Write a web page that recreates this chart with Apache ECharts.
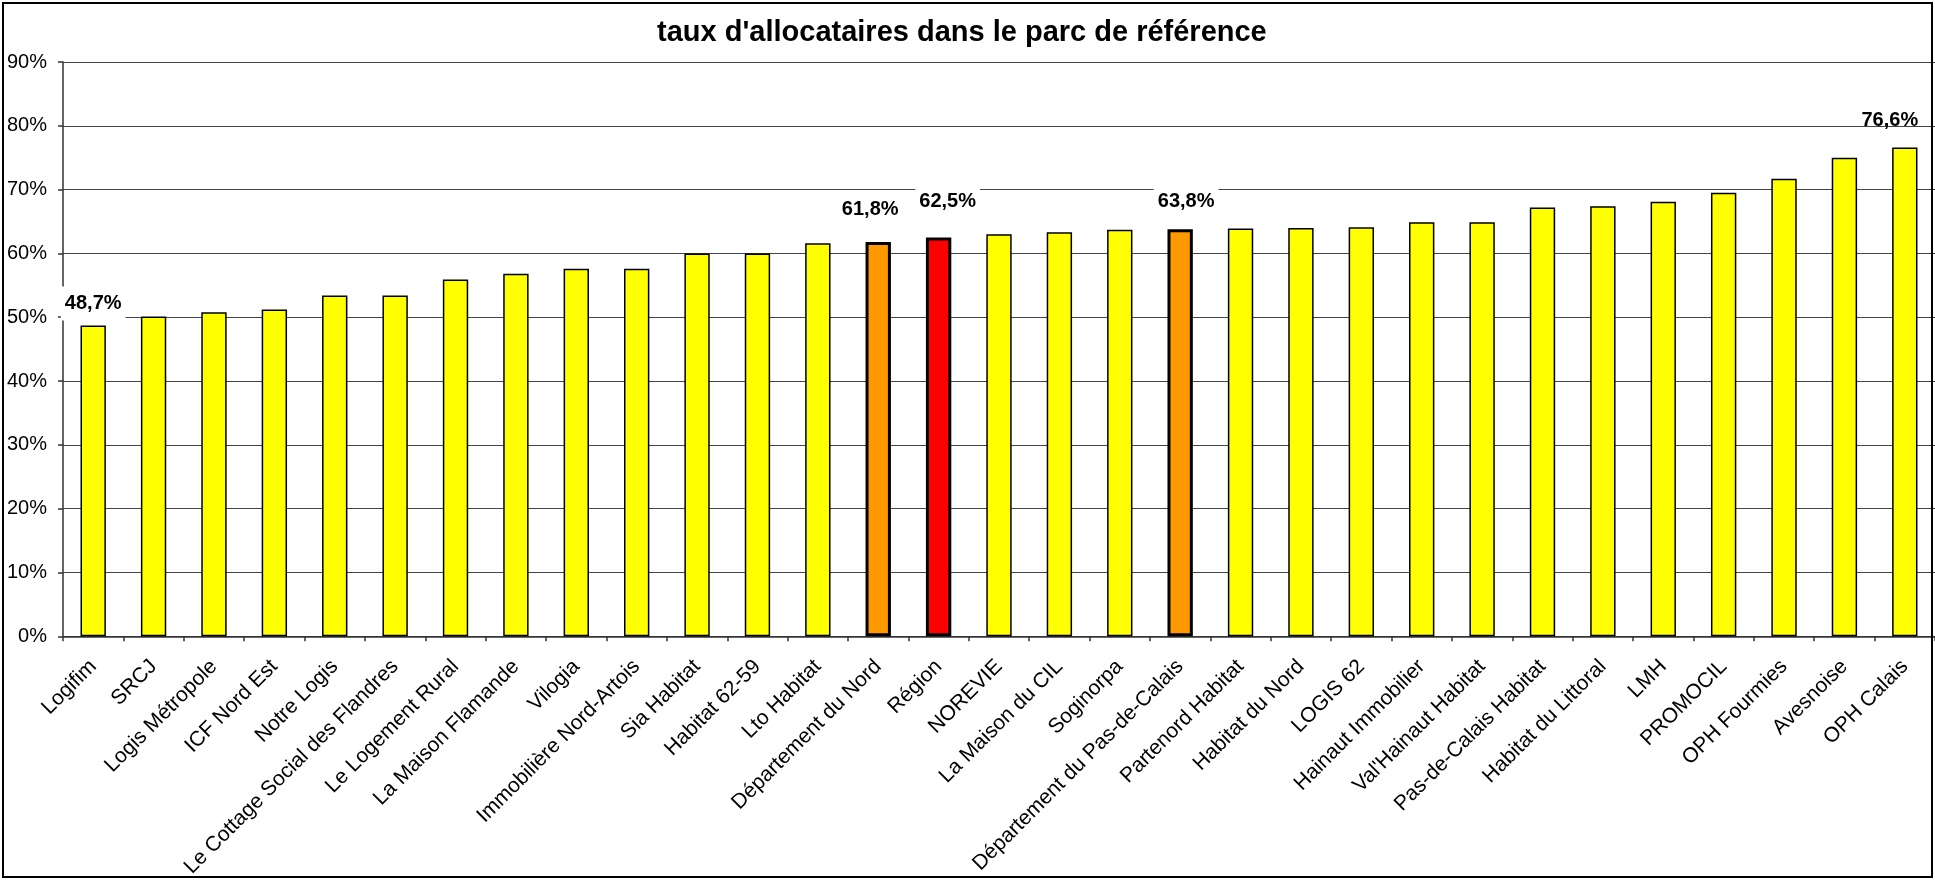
<!DOCTYPE html>
<html>
<head>
<meta charset="utf-8">
<script src="https://cdn.jsdelivr.net/npm/echarts@6/dist/echarts.min.js"></script>
<style>
html,body{margin:0;padding:0;background:#fff;}
#chart{width:1935px;height:880px;}
</style>
</head>
<body>
<div id="chart"></div>
<script>
// ---- data ----
const titleText = "taux d'allocataires dans le parc de référence";
const categories = [
  'Logifim','SRCJ','Logis Métropole','ICF Nord Est','Notre Logis',
  'Le Cottage Social des Flandres','Le Logement Rural','La Maison Flamande','Vilogia','Immobilière Nord-Artois',
  'Sia Habitat','Habitat 62-59','Lto Habitat','Département du Nord','Région',
  'NOREVIE','La Maison du CIL','Soginorpa','Département du Pas-de-Calais','Partenord Habitat',
  'Habitat du Nord','LOGIS 62','Hainaut Immobilier',"Val'Hainaut Habitat",'Pas-de-Calais Habitat',
  'Habitat du Littoral','LMH','PROMOCIL','OPH Fourmies','Avesnoise','OPH Calais'
];
const values = [
  48.7, 50.1, 50.8, 51.2, 53.4,
  53.4, 55.9, 56.8, 57.6, 57.6,
  60.0, 60.0, 61.6, 61.8, 62.5,
  63.0, 63.3, 63.7, 63.8, 63.9,
  64.0, 64.1, 64.9, 64.9, 67.2,
  67.4, 68.1, 69.5, 71.7, 75.0, 76.6
];
const yTicks = [0, 10, 20, 30, 40, 50, 60, 70, 80, 90];
const labelledCategories = ['Logifim','Département du Nord','Région','Département du Pas-de-Calais','OPH Calais'];
const orangeCategories = ['Département du Nord','Département du Pas-de-Calais'];
const redCategories = ['Région'];

// ---- rendering ----
const FONT = "'Liberation Sans', Arial, Helvetica, sans-serif";
const labelOffsets = {
  'Logifim': [0, -5],
  'Département du Nord': [-8, -15],
  'Région': [9, -19],
  'Département du Pas-de-Calais': [6, -11],
  'OPH Calais': [-15, -10]
};
const fmt = v => v.toFixed(1).replace('.', ',') + '%';

const seriesData = categories.map((name, i) => {
  const isRed = redCategories.includes(name);
  const isOrange = orangeCategories.includes(name);
  const item = {
    value: values[i],
    itemStyle: {
      color: isRed ? '#FF0000' : (isOrange ? '#FF9900' : '#FFFF00'),
      borderColor: '#000',
      borderWidth: (isRed || isOrange) ? 3 : 1.5
    }
  };
  if (labelledCategories.includes(name)) {
    item.label = {
      show: true,
      position: 'top',
      distance: 0,
      offset: labelOffsets[name] || [0, 0],
      formatter: p => fmt(p.value),
      fontFamily: FONT,
      fontSize: 20,
      fontWeight: 'bold',
      color: '#000',
      backgroundColor: name === 'OPH Calais' ? 'transparent' : '#fff',
      padding: [7, 4]
    };
  } else {
    item.label = { show: false };
  }
  return item;
});

const chart = echarts.init(document.getElementById('chart'), null, {renderer: 'canvas'});
chart.setOption({
  animation: false,
  backgroundColor: '#fff',
  textStyle: { fontFamily: FONT },
  title: {
    text: titleText,
    left: 652,
    top: 13,
    textStyle: { fontFamily: FONT, fontSize: 29, fontWeight: 'bold', color: '#000' }
  },
  grid: { left: 63, right: 0, top: 62, bottom: 243, containLabel: false },
  xAxis: {
    type: 'category',
    data: categories,
    boundaryGap: true,
    axisLine: { show: true, lineStyle: { color: '#333', width: 1.5 } },
    axisTick: { show: true, length: 5, lineStyle: { color: '#333', width: 1.5 } },
    axisLabel: { rotate: 45, interval: 0, fontSize: 21, color: '#000', fontFamily: FONT, margin: 27 }
  },
  yAxis: {
    type: 'value',
    min: yTicks[0],
    max: yTicks[yTicks.length - 1],
    interval: yTicks[1] - yTicks[0],
    axisLine: { show: true, lineStyle: { color: '#333', width: 1.5 } },
    axisTick: { show: true, length: 5, lineStyle: { color: '#333', width: 1.5 } },
    axisLabel: { formatter: '{value}%', fontSize: 20, color: '#000', fontFamily: FONT, margin: 16 },
    splitLine: { show: true, lineStyle: { color: '#444', width: 1 } }
  },
  series: [{
    type: 'bar',
    barWidth: '42%',
    data: seriesData
  }],
  graphic: [{
    type: 'rect',
    silent: true,
    z: 100,
    shape: { x: 3, y: 3, width: 1929, height: 874 },
    style: { fill: 'none', stroke: '#000', lineWidth: 2 }
  }]
});
</script>
</body>
</html>
